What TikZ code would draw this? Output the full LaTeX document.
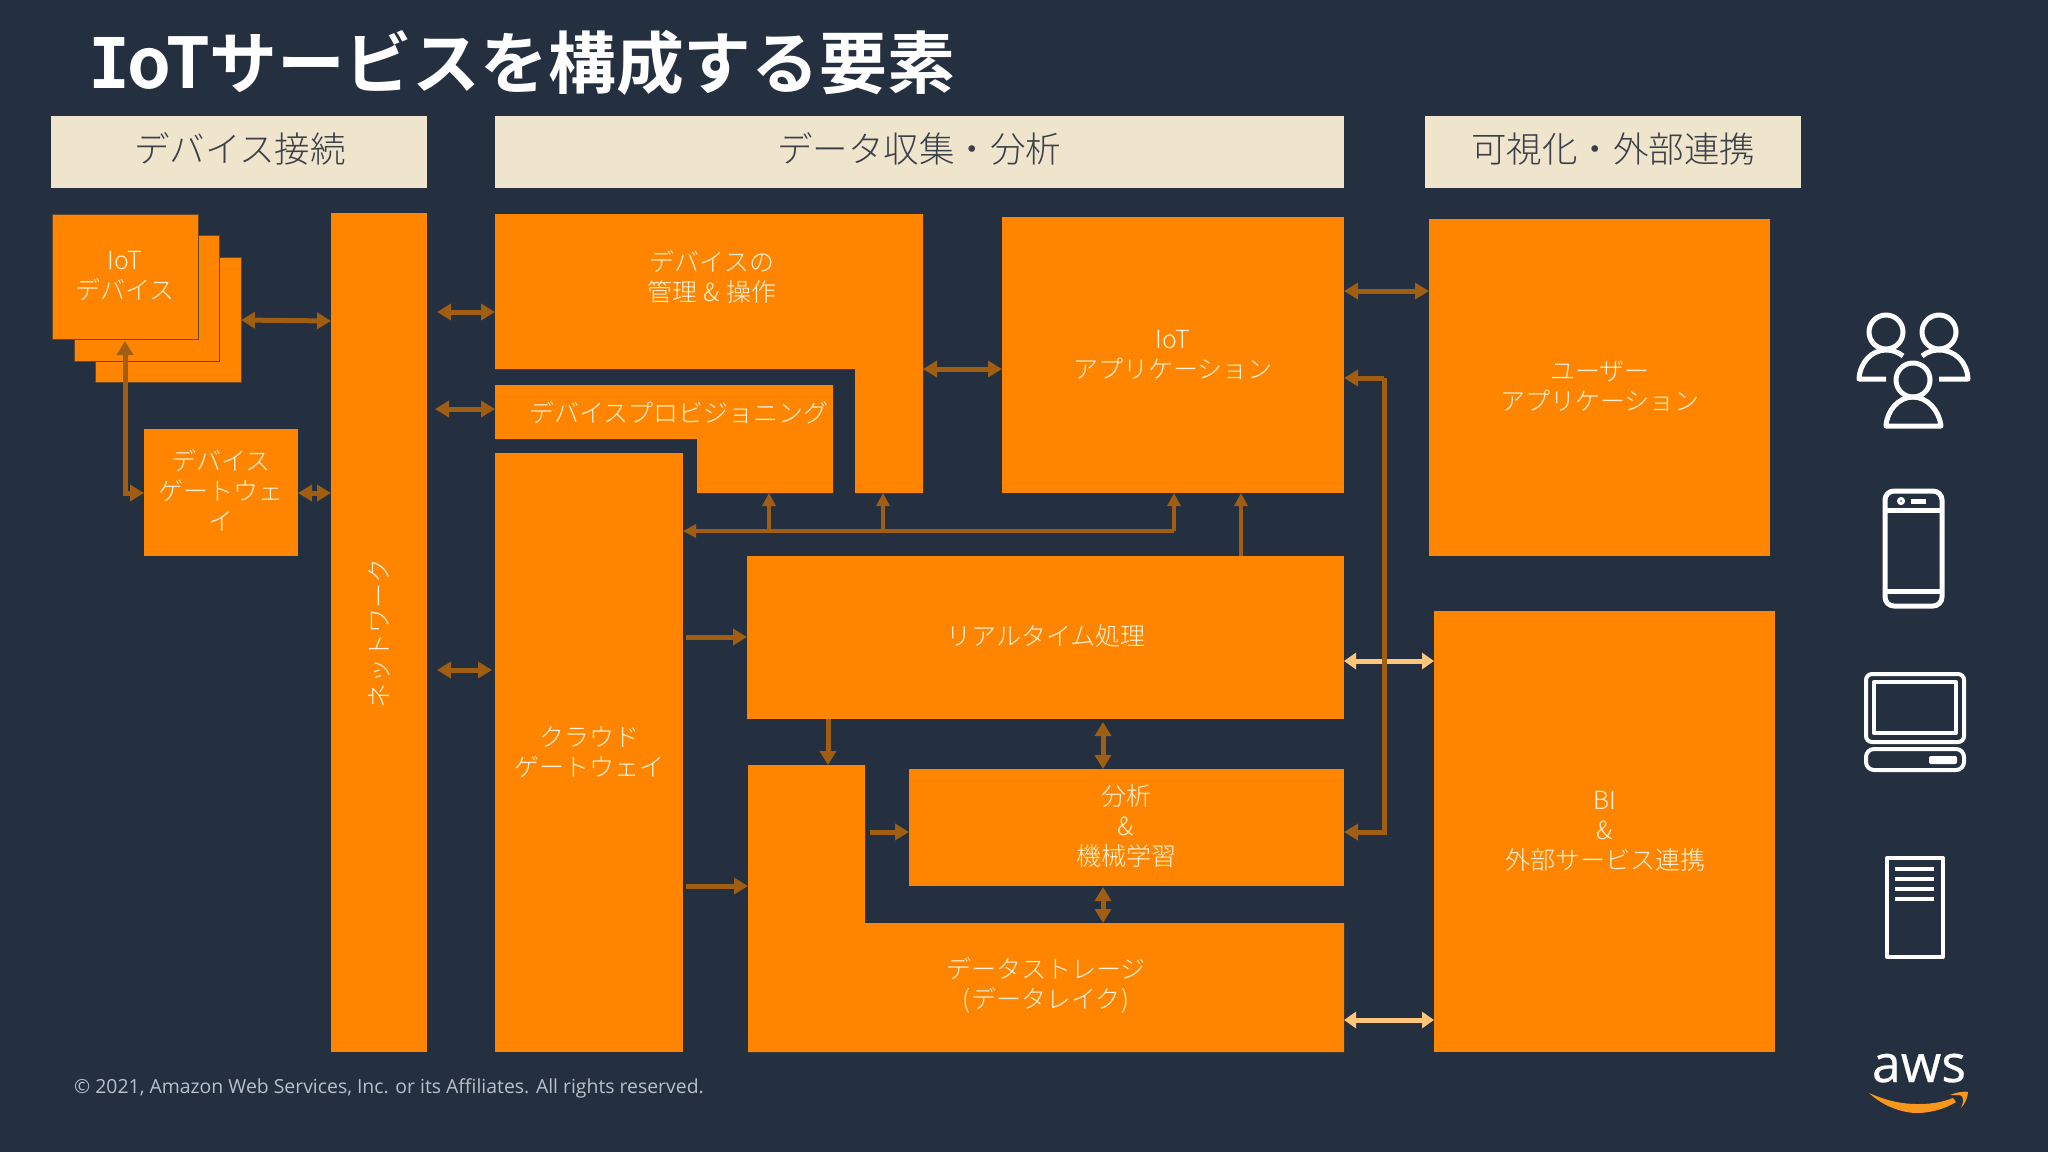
\documentclass[tikz,border=0pt]{standalone}
\usepackage{fontspec}
\usetikzlibrary{arrows.meta}
\setmainfont{Open Sans}
\newfontfamily\jl{Noto Sans CJK JP Light}
\newfontfamily\jb{Noto Sans CJK JP Bold}
\newfontfamily\slabI{DejaVu Sans Mono Bold}
\newfontfamily\awsf[FakeBold=0.5]{Open Sans}
\definecolor{bg}{HTML}{242F3F}
\definecolor{org}{HTML}{FF8500}
\definecolor{crm}{HTML}{EFE5CD}
\definecolor{brn}{HTML}{A05E12}
\definecolor{lgt}{HTML}{FFC67A}
\definecolor{txt}{HTML}{FFF3DC}
\definecolor{hdr}{HTML}{3A3F48}
\definecolor{smile}{HTML}{F7981D}
\definecolor{foot}{HTML}{BAC0C8}
\tikzset{
  x=1pt,y=-1pt,
  area/.style={inner sep=0,outer sep=0,anchor=north west},
  solid box/.style={fill=org},
  lbl/.style={text=txt,align=center,inner sep=0,font=\jl\fontsize{25}{30}\selectfont},
  head/.style={text=hdr,inner sep=0,font=\jl\fontsize{35.5}{40}\selectfont},
  hbox/.style={fill=crm},
  both/.style={draw=brn,line width=5pt,{Triangle[length=14pt,width=16pt]}-{Triangle[length=14pt,width=16pt]}},
  one/.style={draw=brn,line width=5pt,-{Triangle[length=14pt,width=16pt]}},
  thin one/.style={draw=brn,line width=4pt,-{Triangle[length=13pt,width=13pt]}},
  cream/.style={draw=lgt,line width=5pt,{Triangle[length=12pt,width=16pt]}-{Triangle[length=12pt,width=16pt]}},
  icon/.style={draw=white,line width=5pt,line join=round,fill=none},
}
\newcommand{\bx}[6][solid box]{%
  \pgfmathsetlengthmacro{\bw}{#5-#3}\pgfmathsetlengthmacro{\bh}{#6-#4}%
  \node[area,#1,minimum width=\bw,minimum height=\bh] (#2) at (#3,#4) {};}
\begin{document}
\begin{tikzpicture}
\useasboundingbox[fill=bg] (0,0) rectangle (2048,1152);
% title and headers
\node[text=white,anchor=base west,inner sep=0] (title) at (88,88) {\fontsize{70}{74}\selectfont{\slabI I}\hspace{-3pt}{\jb oT}\hspace{-1pt}{\jb\fontsize{67.8}{74}\selectfont サービスを構成する要素}};
\bx[hbox]{h1}{51}{116}{427}{188}
\bx[hbox]{h2}{495}{116}{1344}{188}
\bx[hbox]{h3}{1425}{116}{1801}{188}
\node[head] (h1t) at (240,149) {デバイス接続};
\node[head] (h2t) at (919,149) {データ収集・分析};
\node[head] (h3t) at (1613,149) {可視化・外部連携};
% devices
\bx[solid box,draw=bg!70!org,line width=1pt]{d3}{95}{257}{241}{382}
\bx[solid box,draw=bg!70!org,line width=1pt]{d2}{74}{235}{219}{361}
\bx[solid box,draw=bg!70!org,line width=1pt]{d1}{52}{214}{198}{339}
\bx{gw}{144}{429}{298}{556}
\bx{net}{331}{213}{427}{1052}
% L-shaped areas
\fill[org] (495,214)--(923,214)--(923,493)--(855,493)--(855,369)--(495,369)--cycle;
\fill[org] (495,385)--(833,385)--(833,493)--(697,493)--(697,439)--(495,439)--cycle;
\fill[org] (748,765)--(865,765)--(865,923)--(1344,923)--(1344,1052)--(748,1052)--cycle;
\node[area,minimum width=428pt,minimum height=279pt] (mgmt) at (495,214) {};
\node[area,minimum width=338pt,minimum height=108pt] (prov) at (495,385) {};
\node[area,minimum width=596pt,minimum height=287pt] (store) at (748,765) {};
\bx{cloud}{495}{453}{683}{1052}
\bx{app}{1002}{217}{1344}{493}
\bx{rt}{747}{556}{1344}{719}
\bx{ana}{909}{769}{1344}{886}
\bx{user}{1429}{219}{1770}{556}
\bx{bi}{1434}{611}{1775}{1052}
% labels
\node[lbl] (t1) at (125,276) {IoT\\デバイス};
\node[lbl] (t2) at (221,490) {デバイス\\ゲートウェ\\イ};
\node[lbl,rotate=90] (t3) at (379,633) {ネットワーク};
\node[lbl] (t4) at (712,277) {デバイスの\\管理\hspace{6pt}\&\hspace{6pt}操作};
\node[lbl] (t5) at (679,413) {デバイスプロビジョニング};
\node[lbl] (t6) at (1173,355) {IoT\\アプリケーション};
\node[lbl] (t7) at (1046,636) {リアルタイム処理};
\node[lbl] (t8) at (589,752) {クラウド\\ゲートウェイ};
\node[lbl] (t9) at (1126,826) {分析\\\&\\機械学習};
\node[lbl] (t10) at (1046,985) {データストレージ\\(\hspace{1pt}データレイク\hspace{1pt})};
\node[lbl] (t11) at (1600,386) {ユーザー\\アプリケーション};
\node[lbl] (t12) at (1605,831) {BI\\\&\\外部サービス連携};
% light arrows (below the dark riser)
\draw[cream] (rt.east |- 0,661) -- (bi.west |- 0,661);
\draw[cream] (store.east |- 0,1020) -- (bi.west |- 0,1020);
% dark arrows
\draw[both] (d3.east |- 0,320) -- (net.west |- 0,321);
\coordinate (e1) at (125,341);
\draw[both] (e1) |- (gw.west |- 0,493);
\draw[both] (gw.east |- 0,493) -- (net.west |- 0,493);
\coordinate (e2) at (437,312);
\draw[both] (e2) -- (mgmt.west |- e2);
\coordinate (e3) at (435,409);
\draw[both] (e3) -- (prov.west |- e3);
\coordinate (e4) at (437,670);
\coordinate (e5) at (492,670);
\draw[both] (e4) -- (e5);
\draw[both] (mgmt.east |- 0,369) -- (app.west |- 0,369);
\draw[both] (app.east |- 0,291) -- (user.west |- 0,291);
\coordinate (busr) at (1174,531);
\draw[thin one] (busr) -- (cloud.east |- busr);
\coordinate (b1) at (769,531);
\coordinate (b2) at (883,531);
\coordinate (b3) at (1241,556);
\draw[thin one] (b1) -- (prov.south -| b1);
\draw[thin one] (b2) -- (mgmt.south -| b2);
\draw[thin one] (busr) -- (app.south -| busr);
\draw[thin one] (b3) -- (app.south -| b3);
\coordinate (rise) at (1384,378);
\draw[one] (rise) -- (app.east |- rise);
\draw[one] (rise) |- (ana.east |- 0,832);
\coordinate (c1) at (686,637);
\draw[one] (c1) -- (rt.west |- c1);
\coordinate (c2) at (686,886);
\draw[one] (c2) -- (store.west |- c2);
\coordinate (c3) at (828,719);
\draw[one] (c3) -- (store.north -| c3);
\coordinate (c5) at (870,832);
\draw[one] (c5) -- (ana.west |- c5);
\coordinate (c6) at (1103,722);
\draw[both] (c6) -- (ana.north -| c6);
\coordinate (c7) at (1103,887);
\coordinate (c8) at (1103,923);
\draw[both] (c7) -- (c8);
% icons
\begin{scope}[icon]
\draw (1886,332) circle (17);
\draw (1939,332) circle (17);
\draw (1913,380) circle (17);
\draw (1886,379) -- (1859,379) .. controls (1860,362) and (1872,350) .. (1886,350) .. controls (1892,350) and (1898,352) .. (1903,356);
\draw (1939,379) -- (1968,379) .. controls (1967,362) and (1955,350) .. (1939,350) .. controls (1933,350) and (1927,352) .. (1922,356);
\draw (1886,426) .. controls (1887,410) and (1899,397) .. (1913,397) .. controls (1927,397) and (1939,410) .. (1941,426) -- cycle;
\draw[rounded corners=9pt] (1885,491) rectangle (1942,606);
\draw (1885,510) -- (1942,510);
\draw (1885,591) -- (1942,591);
\draw[line width=3pt] (1901,501) circle (2.5);
\fill[white,draw=none] (1911,499) rectangle (1926,504);
\draw[rounded corners=6pt,line width=4pt] (1866,674) rectangle (1964,742);
\draw[line width=4pt] (1874,682) rectangle (1956,733);
\draw[rounded corners=8pt,line width=4pt] (1866,749) rectangle (1964,770);
\fill[white,draw=none,rounded corners=2pt] (1929,756) rectangle (1957,764);
\draw[line width=4pt] (1887,858) rectangle (1943,957);
\draw[line width=4pt] (1895,869) -- (1934,869);
\draw[line width=4pt] (1895,879) -- (1934,879);
\draw[line width=4pt] (1895,889) -- (1934,889);
\draw[line width=4pt] (1895,899) -- (1934,899);
\end{scope}
% logo
\node[text=white,inner sep=0,anchor=base,font=\awsf\fontsize{52}{54}\selectfont] (aws) at (1919,1082) {aws};
\fill[smile] (1869,1093) .. controls (1885,1108) and (1905,1113) .. (1917,1113) .. controls (1930,1113) and (1945,1109) .. (1956,1102) -- (1953,1098) .. controls (1940,1103) and (1930,1104) .. (1917,1104) .. controls (1900,1104) and (1885,1100) .. (1869,1093) -- cycle;
\fill[smile] (1950,1095) .. controls (1957,1092) and (1965,1091) .. (1968,1092) .. controls (1968,1098) and (1964,1105) .. (1961,1108) .. controls (1964,1101) and (1964,1097) .. (1960,1095) -- cycle;
% footer
\node[text=foot,anchor=west,inner sep=0,font=\fontsize{19.4}{22}\selectfont] (foot) at (74,1088) {© 2021, Amazon Web Services, Inc. or its Affiliates. All rights reserved.};
\end{tikzpicture}
\end{document}
